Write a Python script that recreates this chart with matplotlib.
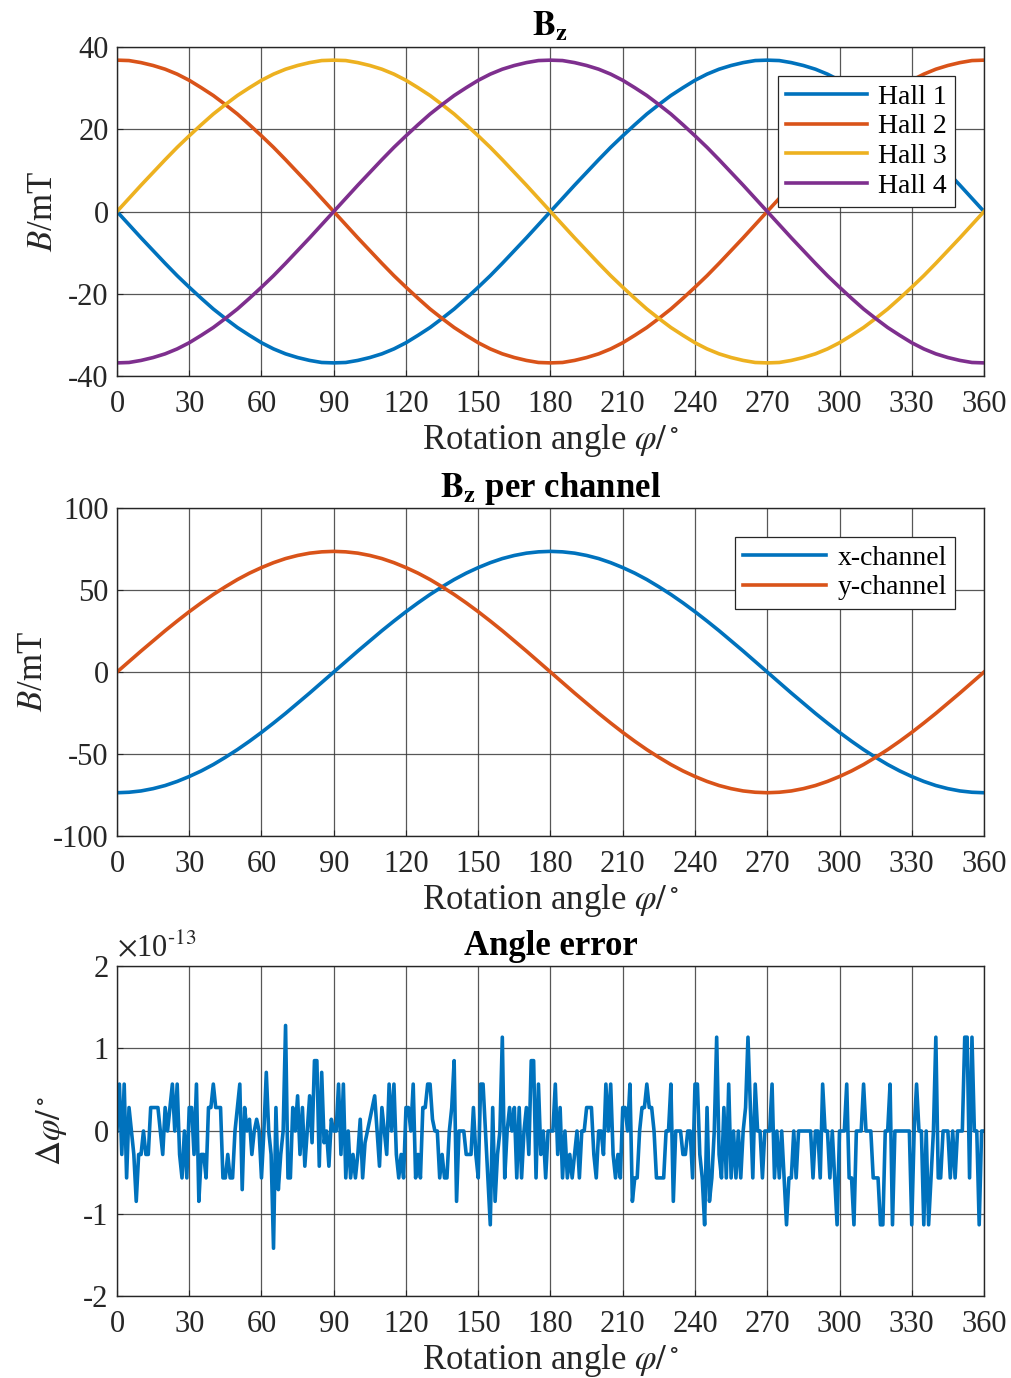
import numpy as np
import matplotlib.pyplot as plt

plt.rcParams['font.family'] = ['Liberation Serif', 'DejaVu Serif']
plt.rcParams['mathtext.fontset'] = 'stix'
plt.rcParams['axes.unicode_minus'] = False

# rotation angle at 5 deg steps for the field curves
phi = list(range(0, 361, 5))

hall1 = [0, -3.2, -6.4, -9.5, -12.6, -15.6, -18.4, -21.1, -23.7, -26.0, -28.2, -30.1, -31.9,
         -33.4, -34.6, -35.5, -36.2, -36.7, -36.8, -36.7, -36.2, -35.5, -34.6, -33.4, -31.9,
         -30.1, -28.2, -26.0, -23.7, -21.1, -18.4, -15.6, -12.6, -9.5, -6.4, -3.2, 0,
         3.2, 6.4, 9.5, 12.6, 15.6, 18.4, 21.1, 23.7, 26.0, 28.2, 30.1, 31.9, 33.4, 34.6, 35.5,
         36.2, 36.7, 36.8, 36.7, 36.2, 35.5, 34.6, 33.4, 31.9, 30.1, 28.2, 26.0, 23.7, 21.1,
         18.4, 15.6, 12.6, 9.5, 6.4, 3.2, 0]
hall2 = [36.8, 36.7, 36.2, 35.5, 34.6, 33.4, 31.9, 30.1, 28.2, 26.0, 23.7, 21.1, 18.4, 15.6,
         12.6, 9.5, 6.4, 3.2, 0, -3.2, -6.4, -9.5, -12.6, -15.6, -18.4, -21.1, -23.7, -26.0,
         -28.2, -30.1, -31.9, -33.4, -34.6, -35.5, -36.2, -36.7, -36.8, -36.7, -36.2, -35.5,
         -34.6, -33.4, -31.9, -30.1, -28.2, -26.0, -23.7, -21.1, -18.4, -15.6, -12.6, -9.5, -6.4,
         -3.2, 0, 3.2, 6.4, 9.5, 12.6, 15.6, 18.4, 21.1, 23.7, 26.0, 28.2, 30.1, 31.9, 33.4,
         34.6, 35.5, 36.2, 36.7, 36.8]
hall3 = [0, 3.2, 6.4, 9.5, 12.6, 15.6, 18.4, 21.1, 23.7, 26.0, 28.2, 30.1, 31.9, 33.4, 34.6,
         35.5, 36.2, 36.7, 36.8, 36.7, 36.2, 35.5, 34.6, 33.4, 31.9, 30.1, 28.2, 26.0, 23.7,
         21.1, 18.4, 15.6, 12.6, 9.5, 6.4, 3.2, 0, -3.2, -6.4, -9.5, -12.6, -15.6, -18.4, -21.1,
         -23.7, -26.0, -28.2, -30.1, -31.9, -33.4, -34.6, -35.5, -36.2, -36.7, -36.8, -36.7,
         -36.2, -35.5, -34.6, -33.4, -31.9, -30.1, -28.2, -26.0, -23.7, -21.1, -18.4, -15.6,
         -12.6, -9.5, -6.4, -3.2, 0]
hall4 = [-36.8, -36.7, -36.2, -35.5, -34.6, -33.4, -31.9, -30.1, -28.2, -26.0, -23.7, -21.1,
         -18.4, -15.6, -12.6, -9.5, -6.4, -3.2, 0, 3.2, 6.4, 9.5, 12.6, 15.6, 18.4, 21.1, 23.7,
         26.0, 28.2, 30.1, 31.9, 33.4, 34.6, 35.5, 36.2, 36.7, 36.8, 36.7, 36.2, 35.5, 34.6,
         33.4, 31.9, 30.1, 28.2, 26.0, 23.7, 21.1, 18.4, 15.6, 12.6, 9.5, 6.4, 3.2, 0, -3.2,
         -6.4, -9.5, -12.6, -15.6, -18.4, -21.1, -23.7, -26.0, -28.2, -30.1, -31.9, -33.4,
         -34.6, -35.5, -36.2, -36.7, -36.8]

x_channel = [-73.6, -73.3, -72.5, -71.1, -69.2, -66.7, -63.7, -60.3, -56.4, -52.0, -47.3,
             -42.2, -36.8, -31.1, -25.2, -19.0, -12.8, -6.4, 0, 6.4, 12.8, 19.0, 25.2, 31.1, 36.8,
             42.2, 47.3, 52.0, 56.4, 60.3, 63.7, 66.7, 69.2, 71.1, 72.5, 73.3, 73.6, 73.3, 72.5,
             71.1, 69.2, 66.7, 63.7, 60.3, 56.4, 52.0, 47.3, 42.2, 36.8, 31.1, 25.2, 19.0, 12.8,
             6.4, 0, -6.4, -12.8, -19.0, -25.2, -31.1, -36.8, -42.2, -47.3, -52.0, -56.4, -60.3,
             -63.7, -66.7, -69.2, -71.1, -72.5, -73.3, -73.6]
y_channel = [0, 6.4, 12.8, 19.0, 25.2, 31.1, 36.8, 42.2, 47.3, 52.0, 56.4, 60.3, 63.7, 66.7,
             69.2, 71.1, 72.5, 73.3, 73.6, 73.3, 72.5, 71.1, 69.2, 66.7, 63.7, 60.3, 56.4, 52.0,
             47.3, 42.2, 36.8, 31.1, 25.2, 19.0, 12.8, 6.4, 0, -6.4, -12.8, -19.0, -25.2, -31.1,
             -36.8, -42.2, -47.3, -52.0, -56.4, -60.3, -63.7, -66.7, -69.2, -71.1, -72.5, -73.3,
             -73.6, -73.3, -72.5, -71.1, -69.2, -66.7, -63.7, -60.3, -56.4, -52.0, -47.3, -42.2,
             -36.8, -31.1, -25.2, -19.0, -12.8, -6.4, 0]

# angle error at 1 deg steps, in steps of 2^-45 deg
err_deg = list(range(0, 361))
err_steps = [
    0, 2, -1, 2, -2, 1, 0, -1, -3, -1, -1, 0, -1, -1, 1, 1, 1, 1, 0, -1,
    1, 0, 1, 2, 0, 2, -1, -2, 0, -2, 1, 1, -1, 2, -3, -1, -1, -2, 1, 1,
    2, 1, 1, 1, -2, -2, -1, -2, -2, 0, 1, 2, -2.5, 1, 0, 0.5, -1, 0, 0.5, 0,
    -2, 0, 2.5, 0, -1, -5, 1, -2.5, -1, 0, 4.5, -2, -2, 1, 0, 1.5, -1, 1, -1.5, 0,
    1.5, -0.5, 3, 3, -1.5, 2.5, -0.5, 0, -1.5, 0.5, 0, 0, 2, -1, 2, -2, 0, -2, -1, -2,
    -1, 0.5, -2, -0.5, 0, 0.5, 1, 1.5, 0, -1.5, 1, 0, -1, 2, 0, 2, -1, -2, -1, -2,
    1, 1, 0, 2, -2, -1, -2, 1, 1, 2, 2, 0.5, 0, 0, -2, -1, -2, -2, 0, 1,
    3, -3, 0, 0, 0, -1, -1, -1, 1, -1, -2, 2, 2, 0, -2, -4, 1, -3, -1, 0,
    4, -2, 0, 1, 0, 1, -2, 1, -2, 0, 1, -1, 3, 3, -2, 2, -1, 0, -2, 0,
    0, 0, 2, -1, 1, -2, 0, -2, -1, -2, -1, 0, -2, 0, 0, 1, 1, 1, -1, -2,
    0, 0, -1, 2, 0, 2, -1, -2, -1, -2, 1, 1, 0, 2, -3, -2, -2, 0, 1, 1,
    2, 1, 1, 0, -2, -2, -2, -2, 0, 0, 2, -3, 0, 0, 0, -1, -1, 0, 0, -2,
    2, 2, -1, -2, -4, 1, -3, -2, 0, 4, -1, -2, 1, -2, 2, -2, 0, -2, 0, -2,
    0, 1, 4, 1, -2, 2, 0, 0, -2, 0, 0, 0, 2, -2, 0, -2, 0, -2, -4, -2,
    -2, 0, -2, 0, 0, 0, 0, 0, 0, -2, 0, 0, -2, 2, 0, 0, -2, 0, -2, -4,
    0, 0, 0, 2, -2, -2, -4, 0, 0, 0, 2, 0, 0, 0, -2, -2, -2, -4, -4, 0,
    0, 2, -4, 0, 0, 0, 0, 0, 0, 0, -4, 0, 2, 0, 0, -4, 0, -4, -2, 0,
    4, -2, -2, 0, 0, 0, -2, 0, -2, 0, 0, 0, 4, 4, -2, 4, 0, 0, -4, 0,
    0]

xticks = [0, 30, 60, 90, 120, 150, 180, 210, 240, 270, 300, 330, 360]
colors = ['#0072BD', '#D95319', '#EDB120', '#7E2F8E']

fs = 22      # tick labels
fl = 25      # axis labels / titles
lw = 2.6
tc = '#262626'

fig = plt.figure(figsize=(10.11, 13.78), dpi=100)
ax1 = fig.add_axes([0.1157, 0.7271, 0.8576, 0.2388])
ax2 = fig.add_axes([0.1157, 0.3933, 0.8576, 0.2380])
ax3 = fig.add_axes([0.1157, 0.0595, 0.8576, 0.2395])


def style(ax):
    ax.set_xlim(0, 360)
    ax.set_xticks(xticks)
    ax.grid(True, color='#3a3a3a', linewidth=0.9, alpha=0.85)
    ax.set_axisbelow(True)
    ax.tick_params(direction='in', labelsize=fs, length=4, colors=tc)
    ax.tick_params(axis='x', pad=10)
    ax.tick_params(axis='y', pad=6)
    for sp in ax.spines.values():
        sp.set_color(tc)
        sp.set_linewidth(1.0)
    ax.set_xlabel(r'Rotation angle $\varphi/^\circ$', fontsize=fl, color=tc, labelpad=2)


def legend(ax, hl):
    leg = ax.legend(loc='upper right', bbox_to_anchor=(0.9666, 0.912), fontsize=20, handlelength=hl,
                    fancybox=False, framealpha=1, edgecolor=tc, borderpad=0.3, labelspacing=0.15,
                    handletextpad=0.4, borderaxespad=0)
    leg.get_frame().set_linewidth(0.9)


# B_z of the four Hall plates
for vals, c, name in zip([hall1, hall2, hall3, hall4], colors, ['Hall 1', 'Hall 2', 'Hall 3', 'Hall 4']):
    ax1.plot(phi, vals, color=c, lw=lw, label=name)
style(ax1)
ax1.set_ylim(-40, 40)
ax1.set_yticks([-40, -20, 0, 20, 40])
ax1.set_ylabel(r'$B$/mT', fontsize=fl, color=tc, labelpad=6)
ax1.set_title(r'$\mathbf{B_z}$', fontsize=fl, fontweight='bold', pad=8)
legend(ax1, 2.9)

# per channel
ax2.plot(phi, x_channel, color=colors[0], lw=lw, label='x-channel')
ax2.plot(phi, y_channel, color=colors[1], lw=lw, label='y-channel')
style(ax2)
ax2.set_ylim(-100, 100)
ax2.set_yticks([-100, -50, 0, 50, 100])
ax2.set_ylabel(r'$B$/mT', fontsize=fl, color=tc, labelpad=2)
ax2.set_title(r'$\mathbf{B_z}$ per channel', fontsize=fl, fontweight='bold', pad=8)
legend(ax2, 3.0)

# angle error
err = np.array(err_steps) * 2.0**-45 * 1e13
ax3.plot(err_deg, err, color=colors[0], lw=lw)
style(ax3)
ax3.set_ylim(-2, 2)
ax3.set_yticks([-2, -1, 0, 1, 2])
ax3.set_ylabel(r'$\Delta\varphi/^\circ$', fontsize=fl, color=tc, labelpad=10)
ax3.set_title('Angle error', fontsize=fl, fontweight='bold', pad=8)
ax3.text(0.0, 1.01, r'$\times$10$^{\text{-13}}$', transform=ax3.transAxes, fontsize=fs,
         color=tc, ha='left', va='bottom')

fig.savefig('out.png', dpi=100)
